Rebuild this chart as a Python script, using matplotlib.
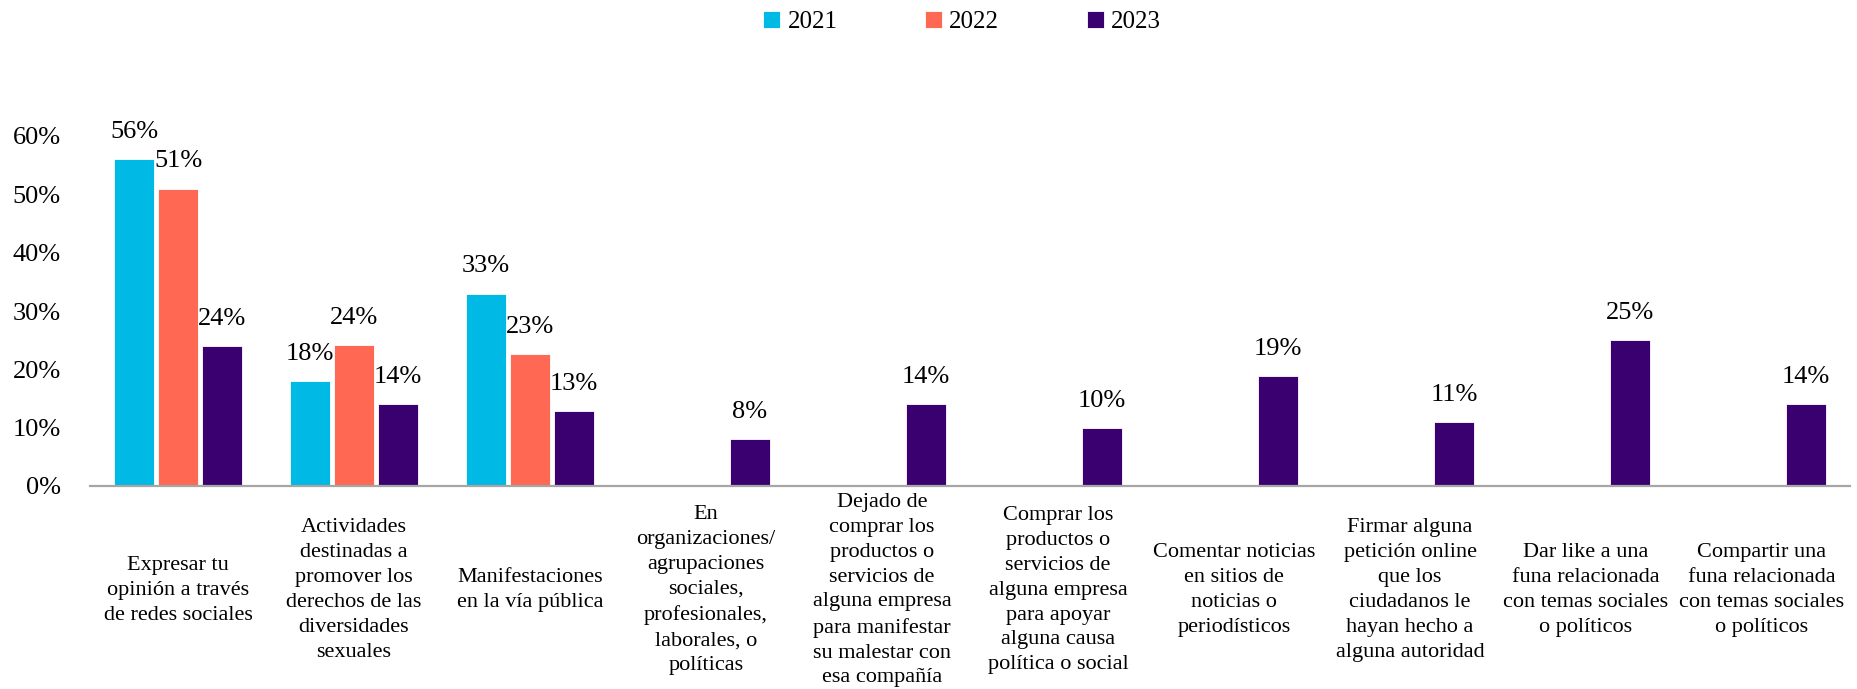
import numpy as np
import matplotlib.pyplot as plt

# categorías (eje x)
categorias = [
    "Expresar tu\nopinión a través\nde redes sociales",
    "Actividades\ndestinadas a\npromover los\nderechos de las\ndiversidades\nsexuales",
    "Manifestaciones\nen la vía pública",
    "En\norganizaciones/\nagrupaciones\nsociales,\nprofesionales,\nlaborales, o\npolíticas",
    "Dejado de\ncomprar los\nproductos o\nservicios de\nalguna empresa\npara manifestar\nsu malestar con\nesa compañía",
    "Comprar los\nproductos o\nservicios de\nalguna empresa\npara apoyar\nalguna causa\npolítica o social",
    "Comentar noticias\nen sitios de\nnoticias o\nperiodísticos",
    "Firmar alguna\npetición online\nque los\nciudadanos le\nhayan hecho a\nalguna autoridad",
    "Dar like a una\nfuna relacionada\ncon temas sociales\no políticos",
    "Compartir una\nfuna relacionada\ncon temas sociales\no políticos",
]

nan = np.nan
anios = ["2021", "2022", "2023"]
v2021 = [56, 18, 33, nan, nan, nan, nan, nan, nan, nan]
v2022 = [51, 24.2, 22.6, nan, nan, nan, nan, nan, nan, nan]
v2023 = [24, 14, 12.9, 8, 14, 10, 18.9, 11, 25, 14]
colores = ["#00B9E4", "#FF6853", "#3A006F"]

yticks = [0, 10, 20, 30, 40, 50, 60]

plt.rcParams['font.family'] = ['Liberation Serif', 'DejaVu Serif']

fig = plt.figure(figsize=(18.58, 6.89), dpi=100)
ax = fig.add_axes([90 / 1858, 1 - 486 / 689, 1760 / 1858, 350 / 689])

x = np.arange(len(categorias))
w = 40 / 176
paso = 44 / 176
series = [v2021, v2022, v2023]
for i, (vals, anio, col) in enumerate(zip(series, anios, colores)):
    pos = x + (i - 1) * paso
    ax.bar(pos, vals, width=w, color=col, label=anio,
           edgecolor="white", linewidth=0.6)
    for xi, v in zip(pos, vals):
        if np.isnan(v):
            continue
        ax.annotate(f"{v:.0f}%", (xi, v), xytext=(0, 19.5), textcoords="offset points",
                    ha="center", va="center", fontsize=19, annotation_clip=False)

ax.set_xlim(-0.5, len(categorias) - 0.5)
ax.set_ylim(0, 60)
ax.set_yticks(yticks)
ax.set_yticklabels([f"{t}%" for t in yticks], fontsize=19)
ax.set_xticks(x)
ax.set_xticklabels(categorias, fontsize=16, va="center", linespacing=1.42)
ax.tick_params(axis="x", length=0, pad=75)
ax.tick_params(axis="y", length=0, pad=21)

for s in ["top", "right", "left"]:
    ax.spines[s].set_visible(False)
ax.spines["bottom"].set_color("#A6A6A6")
ax.spines["bottom"].set_linewidth(1.6)

fig.legend(loc="center", bbox_to_anchor=(962 / 1858, 1 - 22 / 689), ncol=3,
           frameon=False, fontsize=18, handlelength=0.68, handleheight=0.68,
           handletextpad=0.28, columnspacing=3.5)

fig.savefig("out.png", dpi=100)
